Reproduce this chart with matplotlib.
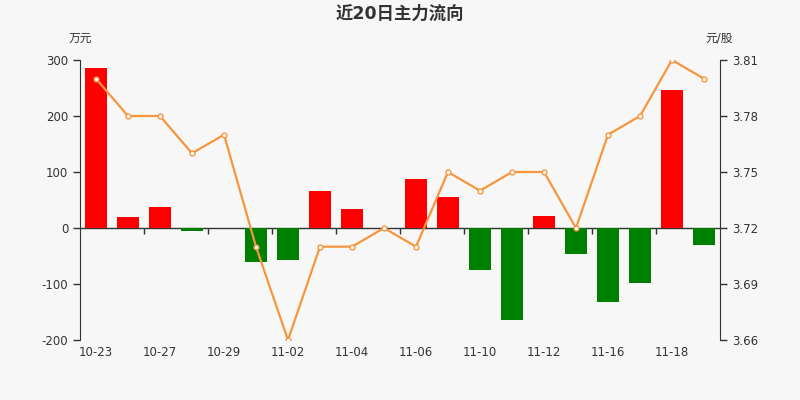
import matplotlib
matplotlib.use("Agg")
import matplotlib.pyplot as plt
import numpy as np

plt.rcParams['font.family'] = ['DejaVu Sans', 'Noto Sans CJK SC']

dates = ["10-23", "10-26", "10-27", "10-28", "10-29", "10-30", "11-02", "11-03",
         "11-04", "11-05", "11-06", "11-09", "11-10", "11-11", "11-12", "11-13",
         "11-16", "11-17", "11-18", "11-19"]
flow = [286, 20, 38, -5, 0, -61, -57, 66, 34, 0, 87, 55, -75, -164, 21, -46,
        -132, -98, 246, -30]
price = [3.80, 3.78, 3.78, 3.76, 3.77, 3.71, 3.66, 3.71, 3.71, 3.72, 3.71, 3.75,
         3.74, 3.75, 3.75, 3.72, 3.77, 3.78, 3.81, 3.80]
left_ticks = [-200, -100, 0, 100, 200, 300]
right_ticks = [3.66, 3.69, 3.72, 3.75, 3.78, 3.81]

bg = "#f7f7f7"
txt = "#333333"
fig = plt.figure(figsize=(8, 4), dpi=100, facecolor=bg)
ax = fig.add_axes([0.1, 0.15, 0.8, 0.7], facecolor=bg)

x = np.arange(len(dates))
colors = ["#ff0000" if v >= 0 else "#008000" for v in flow]
ax.bar(x, flow, width=0.7, color=colors, linewidth=0, zorder=2)
ax.set_xlim(-0.5, len(dates) - 0.5)
ax.set_ylim(left_ticks[0], left_ticks[-1])
ax.set_yticks(left_ticks)
ax.set_yticklabels([str(t) for t in left_ticks])
ax.set_xticks(x[::2])
ax.set_xticklabels(dates[::2])
ax.tick_params(axis='x', length=0, pad=4, labelsize=8.5, labelcolor=txt)
ax.tick_params(axis='y', length=5, width=1, color=txt, labelsize=8.5, labelcolor=txt)
for s in ['top', 'right', 'bottom']:
    ax.spines[s].set_visible(False)
ax.spines['left'].set_color(txt)

# zero axis line with boundary ticks
zero_frac = (0 - left_ticks[0]) / (left_ticks[-1] - left_ticks[0])
sec = ax.secondary_xaxis(zero_frac)
sec.set_xticks(x[1:-1:2] + 0.5)
sec.set_xticklabels([])
sec.tick_params(axis='x', direction='out', length=4, width=1, color=txt)
sec.spines['bottom'].set_color(txt)
sec.spines['bottom'].set_linewidth(1)

ax2 = ax.twinx()
ax2.plot(x, price, color="#f7953e", linewidth=1.6, marker='o', markersize=3.5,
         markerfacecolor='white', markeredgecolor="#f7953e", markeredgewidth=1, zorder=3)
ax2.set_ylim(right_ticks[0], right_ticks[-1])
ax2.set_yticks(right_ticks)
ax2.set_yticklabels([f"{t:.2f}" for t in right_ticks])
ax2.tick_params(axis='y', length=5, width=1, color=txt, labelsize=8.5, labelcolor=txt)
for s in ['top', 'left', 'bottom']:
    ax2.spines[s].set_visible(False)
ax2.spines['right'].set_color(txt)

fig.text(0.5, 0.965, "近20日主力流向", ha='center', va='center', fontsize=12.5,
         fontweight='bold', color=txt)
fig.text(0.1, 0.905, "万元", ha='center', va='center', fontsize=8.5, color=txt)
fig.text(0.899, 0.905, "元/股", ha='center', va='center', fontsize=8.5, color=txt)

fig.savefig("out.png", dpi=100, facecolor=bg)
